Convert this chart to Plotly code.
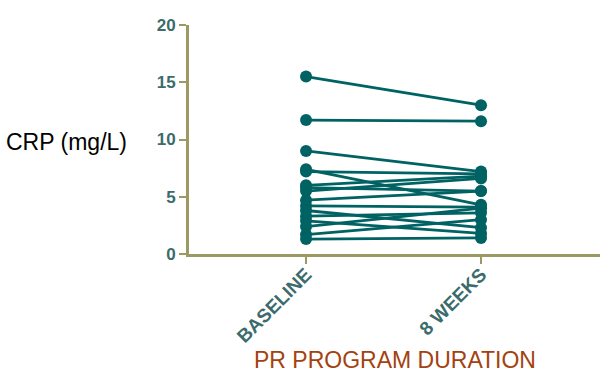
import plotly.graph_objects as go

categories = ["BASELINE", "8 WEEKS"]
baseline = [15.5, 11.7, 9.0, 7.4, 7.2, 6.0, 5.8, 5.5, 4.7, 4.2, 3.8, 3.3, 2.9, 2.4, 1.7, 1.3]
week8 = [13.0, 11.6, 7.2, 4.3, 7.0, 6.8, 5.5, 6.6, 5.5, 4.1, 2.3, 3.6, 1.8, 4.0, 3.0, 1.4]
yticks = [0, 5, 10, 15, 20]

teal = "#006262"
olive = "#9c9a62"
label = "#3b6b6b"
FONT = "Liberation Sans, Arial, sans-serif"

fig = go.Figure()
for b, w in zip(baseline, week8):
    fig.add_trace(go.Scatter(
        x=[0, 1], y=[b, w], mode="lines+markers",
        line=dict(color=teal, width=2.8),
        marker=dict(color=teal, size=12),
        showlegend=False, hoverinfo="skip"))

fig.update_layout(
    width=606, height=378,
    margin=dict(l=189, r=6, t=25, b=124, autoexpand=False),
    plot_bgcolor="white", paper_bgcolor="white",
    font=dict(family=FONT),
)
fig.update_xaxes(
    range=[-0.669, 1.68], tickvals=[0, 1], ticktext=categories,
    tickangle=-45, ticks="outside", ticklen=7, tickwidth=2, tickcolor=olive,
    ticklabelstandoff=-8,
    showline=True, linecolor=olive, linewidth=3, showgrid=False, zeroline=False,
    tickfont=dict(size=19, color=label, family=FONT, weight="bold"),
)
fig.update_yaxes(
    range=[0, 20], tickvals=yticks, ticks="outside", ticklen=7, tickwidth=2,
    tickcolor=olive, showline=True, linecolor=olive, linewidth=3,
    showgrid=False, zeroline=False,
    tickfont=dict(size=17, color=label, family=FONT, weight="bold"),
)
fig.add_annotation(text="CRP (mg/L)", xref="paper", yref="paper", x=0, y=0.49,
                   xshift=-185, xanchor="left", yanchor="middle", showarrow=False,
                   font=dict(size=23, color="black"))
fig.add_annotation(text="PR PROGRAM DURATION", xref="paper", yref="paper", x=0.5, y=0,
                   yshift=-106, xanchor="center", yanchor="middle", showarrow=False,
                   font=dict(size=23, color="#a3420f"))

fig.write_html("out.html", config={"displayModeBar": False},
               post_script="document.body.style.margin='0px';")
